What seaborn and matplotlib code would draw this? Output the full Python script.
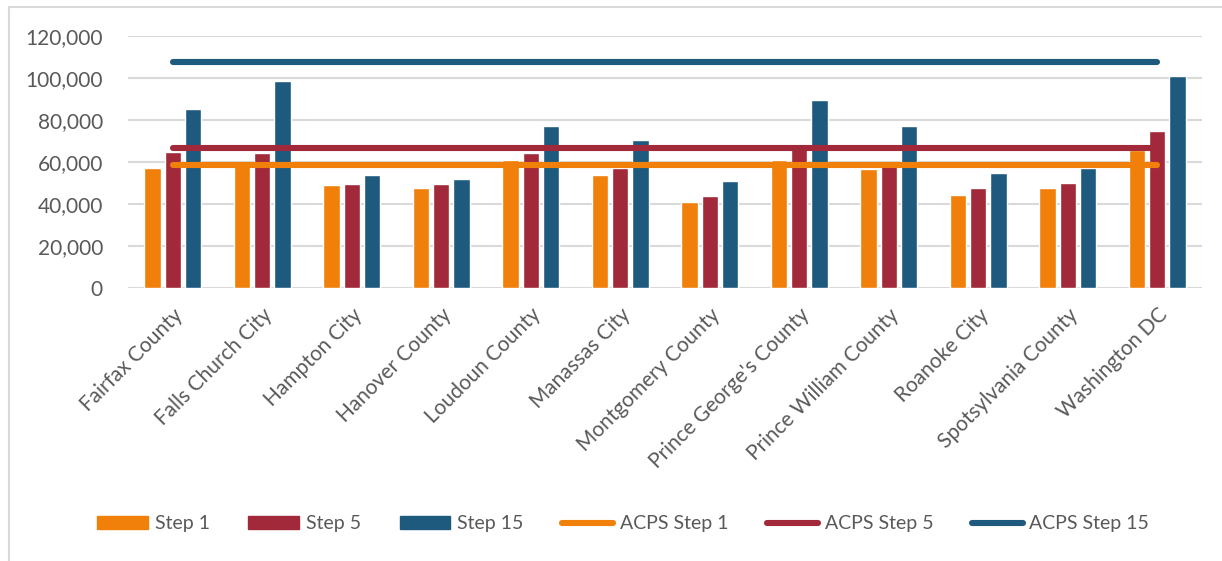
import pandas as pd
import seaborn as sns
import matplotlib.pyplot as plt
from matplotlib.patches import Patch, Rectangle
from matplotlib.lines import Line2D

# Data
districts = ["Fairfax County", "Falls Church City", "Hampton City", "Hanover County",
             "Loudoun County", "Manassas City", "Montgomery County", "Prince George's County",
             "Prince William County", "Roanoke City", "Spotsylvania County", "Washington DC"]
step1 = [57000, 58500, 48900, 47500, 61100, 53700, 41000, 60800, 56700, 44400, 47800, 65500]
step5 = [64900, 64400, 49700, 49500, 64300, 57000, 43700, 66500, 58000, 47500, 49800, 74800]
step15 = [85200, 98600, 53700, 51900, 77000, 70600, 51100, 89500, 77100, 54600, 57100, 101100]
acps_step1 = 58800
acps_step5 = 66700
acps_step15 = 107700

series = ["Step 1", "Step 5", "Step 15"]
colors = ["#F0800A", "#A12939", "#1E5A7E"]
text_color = "#595959"

df = pd.DataFrame({"district": districts, "Step 1": step1, "Step 5": step5, "Step 15": step15})
long = df.melt(id_vars="district", var_name="step", value_name="salary")

sns.set_style("white")
plt.rcParams['font.family'] = ['Lato', 'DejaVu Sans']

fig = plt.figure(figsize=(12.22, 5.61), dpi=100)
ax = fig.add_axes([0.1047, 0.4866, 0.8789, 0.4492])

# outer chart border
fig.patches.append(Rectangle((9 / 1222, -0.05), 1.2, 1 - 7 / 561 + 0.05, transform=fig.transFigure,
                             fill=False, edgecolor="#D9D9D9", linewidth=1.5))

sns.barplot(data=long, x="district", y="salary", hue="step", hue_order=series,
            palette=colors, width=0.68, gap=0.2, ax=ax, legend=False,
            saturation=1, errorbar=None, zorder=3)

xs = list(range(len(districts)))
for val, c in zip([acps_step1, acps_step5, acps_step15], colors):
    ax.plot([xs[0], xs[-1]], [val, val], color=c, lw=4.4, solid_capstyle="round", zorder=4)

ax.set_ylim(0, 120000)
ax.set_xlim(-0.5, len(districts) - 0.5)
ax.set_yticks(range(0, 120001, 20000))
ax.set_yticklabels([f"{v:,}" for v in range(0, 120001, 20000)])
ax.yaxis.grid(True, color="#D9D9D9", lw=1.5, zorder=0)
ax.set_axisbelow(True)
for s in ax.spines.values():
    s.set_visible(False)
ax.tick_params(axis="both", length=0, colors=text_color, labelsize=15)
ax.tick_params(axis="y", pad=18)
ax.tick_params(axis="x", pad=12)
ax.set_xlabel("")
ax.set_ylabel("")
plt.setp(ax.get_xticklabels(), rotation=45, ha="right", rotation_mode="anchor")

handles = [Patch(color=c) for c in colors] + [Line2D([0], [0], color=c, lw=4.4, solid_capstyle="round") for c in colors]
labels = series + ["ACPS " + s for s in series]
fig.legend(handles, labels, loc="center", bbox_to_anchor=(0.51, 0.066), ncol=6, frameon=False,
           fontsize=14, labelcolor=text_color, handlelength=2.6, handletextpad=0.35, columnspacing=2.0)

fig.savefig("out.png", dpi=100, facecolor="white")
